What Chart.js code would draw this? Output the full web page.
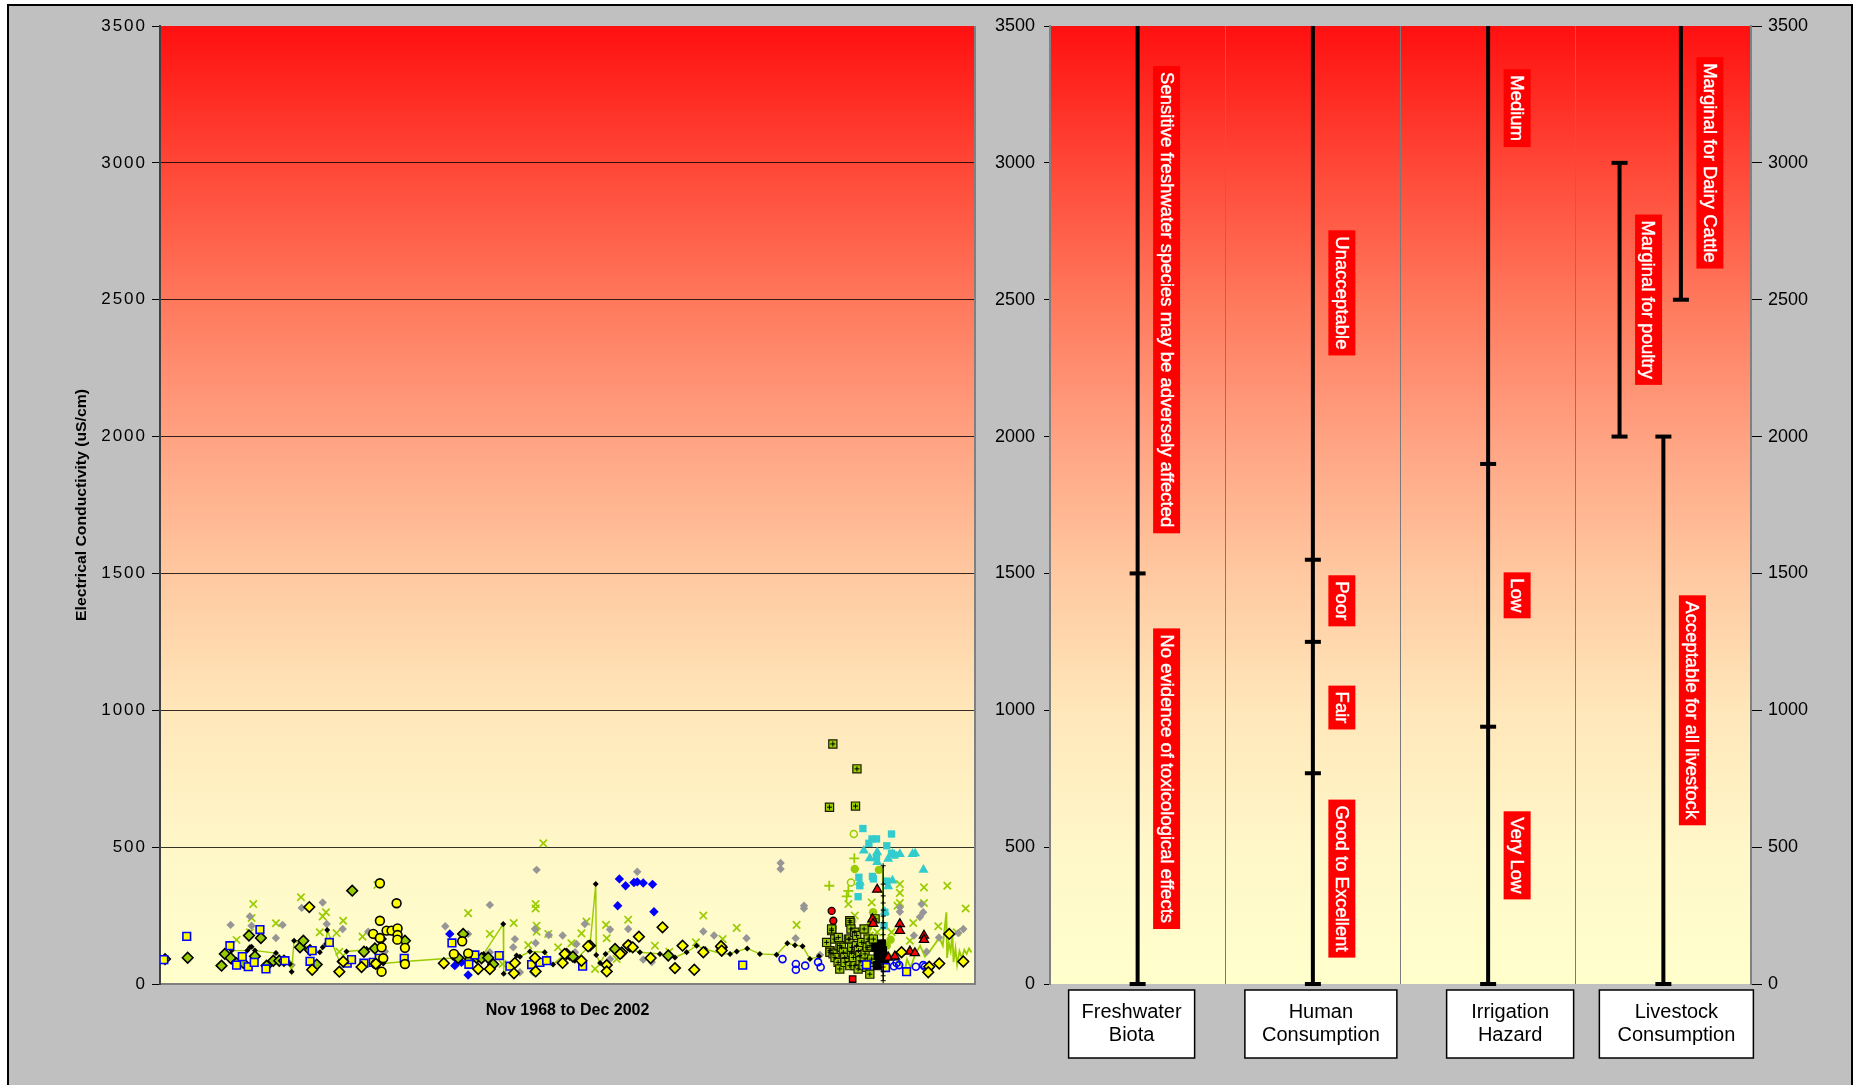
<!DOCTYPE html>
<html>
<head>
<meta charset="utf-8">
<title>Electrical Conductivity, Nov 1968 to Dec 2002</title>
<script src="https://cdn.jsdelivr.net/npm/chart.js@4.4.1/dist/chart.umd.min.js"></script>
<style>
  html, body { margin: 0; padding: 0; background: #fff; width: 1857px; height: 1085px; overflow: hidden; }
  #frame { position: absolute; left: 7px; top: 4px; width: 1846px; height: 1100px;
           background: #c0c0c0; border: 2px solid #000; box-sizing: border-box; }
  canvas { position: absolute; left: 0; top: 0; }
</style>
</head>
<body>
<div id="frame"></div>
<canvas id="ec" width="1857" height="1085"></canvas>
<canvas id="guide" width="1857" height="1085"></canvas>
<script>
// ---------------------------------------------------------------------------
// Sampling record: [decimal year, EC in uS/cm]
// ---------------------------------------------------------------------------
const yearStart = 1968.83;   // Nov 1968
const yearEnd = 2003.0;      // end of Dec 2002
const ecTicks = [0, 500, 1000, 1500, 2000, 2500, 3000, 3500];

const yellowDiamonds = [
  [1975.09,281],[1975.21,52],[1976.35,45],[1976.51,82],[1977.28,62],[1977.88,74],[1980.73,76],
  [1982.17,55],[1982.66,55],[1983.67,39],[1983.71,77],[1984.55,95],[1984.58,46],[1985.71,77],
  [1985.80,110],[1986.50,85],[1986.78,138],[1987.56,69],[1987.56,46],[1988.12,110],[1988.46,142],
  [1988.65,134],[1988.91,173],[1989.40,95],[1989.90,207],[1990.42,58],[1990.74,140],[1991.23,52],
  [1991.61,116],[1992.35,138],[1992.38,122],[1999.92,116],[2001.08,63],[2001.04,43],[2001.92,183],
  [2002.51,82],[2001.50,75]
];
const greenDiamonds = [
  [1969.04,91],[1969.99,96],[1971.41,67],[1971.55,110],[1971.79,95],[1972.04,76],[1972.32,77],
  [1972.56,177],[1972.81,101],[1973.06,168],[1973.30,67],[1973.58,85],[1973.83,85],[1974.03,85],
  [1974.70,134],[1974.84,158],[1975.12,124],[1975.40,71],[1976.89,341],[1977.38,118],[1977.84,130],
  [1978.08,164],[1979.10,158],[1981.33,95],[1981.54,183],[1981.82,91],[1982.10,96],[1982.31,94],
  [1982.59,96],[1982.80,72],[1985.88,110],[1986.14,100],[1986.86,140],[1987.91,128],[1988.19,115],
  [1988.53,138],[1990.14,104],[1992.38,134]
];
const yellowSquares = [
  [1968.99,89],[1969.95,174],[1971.76,140],[1972.04,69],[1972.28,100],[1972.53,63],[1972.78,79],
  [1973.02,199],[1973.27,55],[1974.07,85],[1975.12,83],[1975.21,122],[1975.93,152],[1976.68,76],
  [1976.86,89],[1977.38,76],[1977.77,79],[1978.02,94],[1979.07,94],[1981.07,150],[1981.78,72],
  [1982.03,106],[1983.05,104],[1983.50,65],[1984.41,71],[1984.76,79],[1985.04,85],[1986.55,65],
  [1993.26,69],[1998.45,70],[1999.25,60],[2000.13,45]
];
const yellowCircles = [
  [1978.05,368],[1978.75,295],[1978.05,231],[1978.33,195],[1978.54,195],[1978.79,203],[1978.79,179],
  [1978.78,162],[1979.10,132],[1977.77,183],[1978.12,134],[1978.19,94],[1978.12,45],[1979.10,73],
  [1977.88,73],[1978.05,168],[1981.15,110],[1981.50,156],[1981.75,112]
];
const greyDiamonds = [
  [1971.79,216],[1972.60,247],[1972.67,213],[1973.69,168],[1973.97,216],[1974.77,278],[1975.65,298],
  [1975.82,219],[1976.49,201],[1977.56,191],[1978.26,119],[1974.35,69],[1980.79,211],[1981.75,183],
  [1982.66,289],[1983.71,164],[1982.66,116],[1983.64,134],[1984.62,417],[1984.55,201],[1984.58,150],
  [1985.13,179],[1985.71,177],[1986.29,146],[1986.64,219],[1983.92,43],[1984.48,43],[1986.23,116],
  [1987.70,199],[1988.46,201],[1988.84,410],[1989.09,89],[1989.45,80],[1991.61,192],[1992.06,177],
  [1993.42,167],[1994.85,442],[1994.85,420],[1995.83,286],[1995.83,276],[1995.48,167],[1996.50,106],
  [1999.85,280],[1999.85,264],[2000.76,292],[2000.83,262],[2000.69,245],[2000.44,177],[2000.97,118],
  [2001.49,170],[2002.51,201],[2002.30,186],[1987.70,91]
];
const greenCrosses = [
  [1972.04,161],[1972.74,292],[1972.67,241],[1972.60,189],[1973.69,222],[1974.74,317],[1975.65,247],
  [1975.79,262],[1975.53,189],[1976.23,186],[1976.51,231],[1976.35,118],[1977.32,173],[1977.94,362],
  [1981.75,259],[1982.66,183],[1983.66,223],[1983.19,73],[1984.27,142],[1984.58,276],[1984.58,292],
  [1984.62,213],[1984.62,191],[1984.90,514],[1985.11,183],[1985.52,134],[1986.08,149],[1986.50,185],
  [1986.71,228],[1987.07,55],[1987.53,216],[1987.56,167],[1987.98,91],[1988.46,235],[1989.58,140],
  [1990.18,118],[1991.30,152],[1991.61,250],[1992.42,164],[1993.01,205],[1995.52,216],[1997.69,292],
  [1997.96,250],[1998.59,177],[1998.67,298],[1998.90,189],[1999.50,189],[1999.85,365],[1999.85,333],
  [1999.85,296],[1999.75,286],[2000.27,158],[2000.41,223],[2000.86,353],[2000.86,296],[2001.46,211],
  [2001.84,359],[2002.23,189],[2002.61,276]
];
const blackDiamondRun = [
  [1971.83,122],[1972.49,122],[1972.60,134],[1972.67,136],[1972.81,122],[1973.69,113],[1974.28,73],
  [1974.35,45],[1974.45,158],[1975.53,116],[1975.65,134],[1975.79,146],[1975.84,197],[1976.35,82],
  [1976.65,119],[1977.35,124],[1977.49,128],[1977.77,125],[1978.19,75],[1979.10,82],[1981.12,95],
  [1982.40,110],[1983.22,219],[1983.24,37],[1983.78,104],[1983.92,100],[1984.34,119],[1984.96,116],
  [1985.31,71],[1985.74,105],[1986.01,95],[1986.22,85],[1986.78,134],[1986.86,142],[1987.10,365],
  [1987.12,106],[1987.28,77],[1987.51,110],[1987.91,134],[1988.05,120],[1988.19,104],[1988.53,128],
  [1988.95,116],[1989.79,110],[1990.42,97],[1990.91,116],[1991.33,140],[1991.68,128],[1992.38,110],
  [1992.73,110],[1993.01,119],[1993.45,130],[1993.98,110],[1994.68,107],[1995.13,149],[1995.45,142],
  [1995.77,138],[1996.08,91],[1996.46,101]
];
const blueDiamonds = [
  [1980.98,183],[1981.19,67],[1981.33,84],[1981.47,79],[1981.75,33],[1988.02,286],[1988.09,384],
  [1988.35,359],[1988.70,371],[1988.84,373],[1989.09,369],[1989.48,364],[1989.54,264]
];
const blueRings = [
  [1994.93,91],[1995.49,73],[1995.49,52],[1995.88,67],[1996.42,80],[1996.53,61],[1999.60,65],
  [1999.71,77],[1999.82,69],[2000.52,63],[2000.83,69],[2000.90,63]
];
const cyanSquares = [
  [1998.30,568],[1999.50,548],[1998.68,530],[1998.87,530],[1998.55,514],[1999.30,505],[1999.50,477],
  [1999.64,471],[1998.87,462],[1998.13,390],[1998.17,359],[1998.70,393],[1998.74,384],[1999.30,376],
  [1998.10,319],[1999.19,213],[1999.22,262]
];
const cyanTriangles = [
  [1998.34,487],[1998.59,459],[1998.90,481],[1998.90,445],[1999.36,457],[1999.54,475],[1999.85,475],
  [2000.38,475],[2000.49,477],[2000.84,417],[1998.17,371],[1999.36,357],[1999.54,378],[1999.22,264]
];
const redTriangles = [
  [1998.90,345],[1998.70,237],[1998.73,220],[1999.85,219],[1999.85,195],[2000.86,177],[2000.86,162],
  [2000.27,119],[2000.48,113],[1999.36,97],[1999.64,101]
];
const redDots = [[1996.99,267],[1997.06,231]];
const redSquares = [[1997.87,18]];
const greenSquares = [
  [1996.90,646],[1997.04,877],[1997.99,650],[1998.05,786],
  [1996.78,152],[1996.92,122],[1996.92,116],[1996.99,195],[1996.99,201],[1997.05,110],[1997.12,164],
  [1997.13,97],[1997.26,79],[1997.27,170],[1997.33,55],[1997.34,140],[1997.40,134],[1997.48,116],
  [1997.54,97],[1997.55,79],[1997.69,164],[1997.75,231],[1997.75,164],[1997.75,67],[1997.76,225],
  [1997.80,201],[1997.82,116],[1997.83,134],[1997.90,97],[1997.96,189],[1997.97,67],[1998.03,140],
  [1998.04,177],[1998.10,55],[1998.11,122],[1998.17,104],[1998.18,85],[1998.25,152],[1998.31,67],
  [1998.35,201],[1998.39,110],[1998.46,61],[1998.48,134],[1998.52,164],[1998.59,79],[1998.59,36],
  [1998.60,140],[1998.67,91],[1998.74,164],[1998.81,238]
];
const greenPlus = [[1996.89,359],[1997.94,459],[1997.69,340],[1997.62,320]];
const greenDots = [
  [1997.96,420],[1998.97,417],[1998.73,262],[1998.66,225],[1998.52,207],[1998.45,185],[1999.46,162],
  [1999.30,140]
];
const greenRings = [[1997.92,548],[1997.80,371],[1997.03,206],[1997.85,230]];
const blackSquares = [
  [1998.84,134],[1998.94,104],[1999.01,73],[1999.12,122],[1999.22,91],[1998.90,67],[1999.08,146],
  [1998.97,115],[1999.18,80],[1999.05,95]
];
const eventProfile = [
  [1999.15,432],[1999.15,365],[1999.15,322],[1999.15,296],[1999.15,270],[1999.15,248],[1999.15,224],
  [1999.15,205],[1999.15,180],[1999.15,160],[1999.15,136],[1999.15,118],[1999.15,98],[1999.15,80],
  [1999.15,62],[1999.15,45],[1999.15,30],[1999.15,12]
];
const greenTrace = [
  [1999.13,430],[1999.16,95],[1999.30,120],[1999.60,95],[1999.90,70],[2000.05,45],[2000.15,90],
  [2000.30,60],[2000.50,110],[2000.70,140],[2000.90,100],[2001.10,120],[2001.35,150],[2001.50,170],
  [2001.65,140],[2001.80,262],[2001.83,95],[2001.90,150],[2001.98,120],[2002.05,185],[2002.10,80],
  [2002.18,130],[2002.25,70],[2002.35,120],[2002.45,95],[2002.55,125],[2002.65,110],[2002.75,130],
  [2002.85,115]
];

// ---------------------------------------------------------------------------
// Water quality guideline bands (EC, uS/cm)
// ---------------------------------------------------------------------------
const guideCategories = [['Freshwater', 'Biota'], ['Human', 'Consumption'], ['Irrigation', 'Hazard'], ['Livestock', 'Consumption']];
const bandLabels = [
  'No evidence of toxicological effects', 'Sensitive freshwater species may be adversely affected',
  'Good to Excellent', 'Fair', 'Poor', 'Unacceptable',
  'Very Low', 'Low', 'Medium',
  'Acceptable for all livestock', 'Marginal for poultry', 'Marginal for Dairy Cattle'
];
const bandColumn = [0, 0, 1, 1, 1, 1, 2, 2, 2, 3, 3, 3];
const bandFrom = [0, 1500, 0, 770, 1250, 1550, 0, 940, 1900, 0, 2000, 2500];
const bandTo = [1500, 3500, 770, 1250, 1550, 3500, 940, 1900, 4500, 2000, 3000, 3500];

// ---------------------------------------------------------------------------
// Shared drawing helpers
// ---------------------------------------------------------------------------
const FONT = '"Liberation Sans", Arial, Helvetica, sans-serif';
Chart.defaults.font.family = FONT;
Chart.defaults.color = '#000';

// lateral offset (in column units) for livestock bars sharing a column
const laneShift = { 'Marginal for poultry': -0.25, 'Marginal for Dairy Cattle': 0.1 };

function fillPlotGradient(chart) {
  const { ctx, chartArea: a } = chart;
  const g = ctx.createLinearGradient(0, a.top, 0, a.bottom);
  g.addColorStop(0.000, 'rgb(255,16,16)');
  g.addColorStop(0.143, 'rgb(255,70,54)');
  g.addColorStop(0.286, 'rgb(255,120,92)');
  g.addColorStop(0.429, 'rgb(255,162,130)');
  g.addColorStop(0.571, 'rgb(255,200,160)');
  g.addColorStop(0.714, 'rgb(255,231,186)');
  g.addColorStop(0.857, 'rgb(255,247,200)');
  g.addColorStop(1.000, 'rgb(255,255,204)');
  ctx.save();
  ctx.fillStyle = g;
  ctx.fillRect(a.left, a.top, a.right - a.left, a.bottom - a.top);
  ctx.restore();
}

// text squeezed or stretched to a given length along its baseline
function fittedText(ctx, text, x, y, angle, font, length) {
  ctx.save();
  ctx.font = font;
  ctx.translate(x, y);
  ctx.rotate(angle);
  const w = ctx.measureText(text).width;
  if (length) ctx.scale(length / w, 1);
  ctx.textAlign = 'center';
  ctx.textBaseline = 'middle';
  ctx.fillStyle = '#000';
  ctx.fillText(text, 0, 0);
  ctx.restore();
}

const pts = arr => arr.map(([x, y]) => ({ x, y }));
function marks(arr, style) {
  return Object.assign({ data: pts(arr), showLine: false, pointHoverRadius: 0 }, style);
}
const plainNumber = v => String(v);

// ---------------------------------------------------------------------------
// Left panel: EC record
// ---------------------------------------------------------------------------
const ecDecor = {
  id: 'ecDecor',
  beforeDraw(chart) {
    fillPlotGradient(chart);
    chart.ctx.letterSpacing = '2px';
  },
  beforeDatasetsDraw(chart) { chart.ctx.letterSpacing = '0px'; },
  afterDraw(chart) {
    const { ctx, chartArea: a } = chart;
    ctx.save();
    ctx.strokeStyle = '#808080';
    ctx.lineWidth = 2;
    ctx.beginPath();
    ctx.moveTo(a.right, a.top);
    ctx.lineTo(a.right, a.bottom);
    ctx.stroke();
    ctx.restore();
    fittedText(ctx, 'Electrical Conductivity (uS/cm)', 82, (a.top + a.bottom) / 2, -Math.PI / 2, 'bold 15px ' + FONT, 232);
    fittedText(ctx, 'Nov 1968 to Dec 2002', (a.left + a.right) / 2, 1011, 0, 'bold 16px ' + FONT, 0);
  }
};

const Y = '#ffff00', G = '#99cc00', GR = '#969696', B = '#0000ff', C = '#33cccc', R = '#ff0000', K = '#000';

new Chart(document.getElementById('ec'), {
  type: 'scatter',
  data: {
    datasets: [
      { data: pts(eventProfile), showLine: true, borderColor: K, borderWidth: 1.2,
        pointStyle: 'cross', pointRadius: 2.5, pointBorderColor: K, pointBorderWidth: 1, pointHoverRadius: 0 },
      marks(yellowDiamonds, { pointStyle: 'rectRot', pointRadius: 5.3, backgroundColor: Y, borderColor: K, borderWidth: 1.6 }),
      marks(yellowCircles, { pointStyle: 'circle', pointRadius: 4.4, backgroundColor: Y, borderColor: K, borderWidth: 1.6 }),
      marks(yellowSquares, { pointStyle: 'rect', pointRadius: 5.4, backgroundColor: Y, borderColor: B, borderWidth: 1.6 }),
      marks(greenDiamonds, { pointStyle: 'rectRot', pointRadius: 5.3, backgroundColor: G, borderColor: K, borderWidth: 1.6 }),
      marks(redTriangles, { pointStyle: 'triangle', pointRadius: 5.3, backgroundColor: R, borderColor: K, borderWidth: 1.3 }),
      marks(redDots, { pointStyle: 'circle', pointRadius: 3.5, backgroundColor: R, borderColor: K, borderWidth: 1.3 }),
      marks(redSquares, { pointStyle: 'rect', pointRadius: 4.5, backgroundColor: R, borderColor: K, borderWidth: 1.3 }),
      marks(cyanSquares, { pointStyle: 'rect', pointRadius: 5.2, backgroundColor: C, borderColor: C, borderWidth: 0 }),
      marks(cyanTriangles, { pointStyle: 'triangle', pointRadius: 5.8, backgroundColor: C, borderColor: C, borderWidth: 0 }),
      marks(blackSquares, { pointStyle: 'rect', pointRadius: 5.8, backgroundColor: K, borderColor: K, borderWidth: 1 }),
      marks(greenSquares, { pointStyle: 'cross', pointRadius: 2.5, borderColor: K, borderWidth: 1 }),
      marks(greenSquares, { pointStyle: 'rect', pointRadius: 5.8, backgroundColor: G, borderColor: '#1a1a00', borderWidth: 1.2 }),
      marks(greenDots, { pointStyle: 'circle', pointRadius: 4.2, backgroundColor: G, borderColor: G, borderWidth: 0 }),
      marks(greenRings, { pointStyle: 'circle', pointRadius: 3.5, backgroundColor: 'rgba(0,0,0,0)', borderColor: G, borderWidth: 1.5 }),
      marks(greenPlus, { pointStyle: 'cross', pointRadius: 5, borderColor: G, borderWidth: 1.8 }),
      marks(blueDiamonds, { pointStyle: 'rectRot', pointRadius: 4.7, backgroundColor: B, borderColor: B, borderWidth: 0 }),
      marks(blueRings, { pointStyle: 'circle', pointRadius: 3.5, backgroundColor: 'rgba(0,0,0,0)', borderColor: B, borderWidth: 1.6 }),
      { data: pts(blackDiamondRun), showLine: true, borderColor: G, borderWidth: 1.4,
        pointStyle: 'rectRot', pointRadius: 3, pointBackgroundColor: K, pointBorderColor: K, pointBorderWidth: 0, pointHoverRadius: 0 },
      marks(greyDiamonds, { pointStyle: 'rectRot', pointRadius: 4.2, backgroundColor: GR, borderColor: GR, borderWidth: 0 }),
      marks(greenCrosses, { pointStyle: 'crossRot', pointRadius: 5.2, borderColor: G, borderWidth: 1.7 }),
      { data: pts(greenTrace), showLine: true, borderColor: G, borderWidth: 1.8, pointRadius: 0, pointHoverRadius: 0 }
    ]
  },
  options: {
    responsive: false,
    animation: false,
    events: [],
    layout: { padding: { left: 100, top: 26, right: 1857 - 975, bottom: 1085 - 984 } },
    plugins: { legend: { display: false }, tooltip: { enabled: false } },
    scales: {
      x: {
        type: 'linear', min: yearStart, max: yearEnd,
        ticks: { display: false },
        grid: { display: false, drawTicks: false },
        border: { color: '#808080', width: 2 },
        afterFit(s) { s.height = 0; }
      },
      y: {
        min: 0, max: 3500,
        afterBuildTicks(s) { s.ticks = ecTicks.map(v => ({ value: v })); },
        ticks: { font: { size: 17 }, color: '#000', padding: 5, callback: plainNumber },
        grid: {
          color: c => (c.tick && (c.tick.value === 0 || c.tick.value === 3500)) ? 'rgba(0,0,0,0)' : 'rgba(0,0,0,0.8)',
          lineWidth: 1, tickLength: 8, tickColor: '#000', tickWidth: 1
        },
        border: { color: '#404040', width: 2 },
        afterFit(s) { s.width = 60; }
      }
    }
  },
  plugins: [ecDecor]
});

// ---------------------------------------------------------------------------
// Right panel: guideline bands
// ---------------------------------------------------------------------------
const bandX = bandLabels.map((l, i) => bandColumn[i] + 0.5 + (laneShift[l] || 0));

const bandSets = bandLabels.map((l, i) => ({
  data: [{ x: bandX[i], y: bandFrom[i] }, { x: bandX[i], y: bandTo[i] }],
  showLine: true, borderColor: '#000', borderWidth: 4, pointRadius: 0, pointHoverRadius: 0
}));

// end caps: every band start, plus band ends that don't continue and sit inside the axis
const capPoints = [];
bandLabels.forEach((l, i) => {
  capPoints.push({ x: bandX[i], y: bandFrom[i] });
  const continues = bandLabels.some((m, j) => j !== i && bandX[j] === bandX[i] && bandFrom[j] === bandTo[i]);
  if (!continues && bandTo[i] < 3500) capPoints.push({ x: bandX[i], y: bandTo[i] });
});

const guideDecor = {
  id: 'guideDecor',
  beforeDraw(chart) { fillPlotGradient(chart); },
  afterDatasetsDraw(chart) {
    const { ctx, scales: { x, y } } = chart;
    ctx.save();
    ctx.font = '18.5px ' + FONT;
    bandLabels.forEach((txt, i) => {
      const cx = x.getPixelForValue(bandX[i]) + 29;
      const cy = y.getPixelForValue((bandFrom[i] + bandTo[i]) / 2);
      const len = ctx.measureText(txt).width + 12;
      ctx.fillStyle = '#ff0000';
      ctx.fillRect(cx - 13.5, cy - len / 2, 27, len);
      ctx.save();
      ctx.translate(cx, cy);
      ctx.rotate(Math.PI / 2);
      ctx.fillStyle = '#fff';
      ctx.strokeStyle = '#fff';
      ctx.lineWidth = 0.4;
      ctx.textAlign = 'center';
      ctx.textBaseline = 'middle';
      ctx.fillText(txt, 0, 1);
      ctx.strokeText(txt, 0, 1);
      ctx.restore();
    });
    ctx.restore();
  },
  afterDraw(chart) {
    const { ctx, scales: { x } } = chart;
    const boxW = [126, 152, 127, 154];
    const boxShift = [-6, 8, 22, 13];
    ctx.save();
    guideCategories.forEach((lines, i) => {
      const cx = x.getPixelForValue(i + 0.5) + boxShift[i];
      ctx.fillStyle = '#fff';
      ctx.fillRect(cx - boxW[i] / 2, 990, boxW[i], 68);
      ctx.strokeStyle = '#000';
      ctx.lineWidth = 1.5;
      ctx.strokeRect(cx - boxW[i] / 2, 990, boxW[i], 68);
      ctx.fillStyle = '#000';
      ctx.font = '20px ' + FONT;
      ctx.textAlign = 'center';
      ctx.textBaseline = 'middle';
      lines.forEach((t, k) => ctx.fillText(t, cx, 1012 + k * 23));
    });
    ctx.restore();
  }
};

new Chart(document.getElementById('guide'), {
  type: 'scatter',
  data: {
    datasets: [
      { data: capPoints, showLine: false, pointStyle: 'line', pointRadius: 8, borderColor: '#000',
        borderWidth: 4, pointHoverRadius: 0, clip: false },
      ...bandSets
    ]
  },
  options: {
    responsive: false,
    animation: false,
    events: [],
    layout: { padding: { left: 1050 - 60, top: 26, right: 1857 - 1751 - 70, bottom: 1085 - 984 } },
    plugins: { legend: { display: false }, tooltip: { enabled: false } },
    scales: {
      x: {
        type: 'linear', min: 0, max: guideCategories.length,
        ticks: { display: false, stepSize: 1 },
        grid: { color: '#7a7a7a', lineWidth: 1, drawTicks: false },
        border: { display: false },
        afterFit(s) { s.height = 0; }
      },
      y: {
        position: 'left', min: 0, max: 3500,
        afterBuildTicks(s) { s.ticks = ecTicks.map(v => ({ value: v })); },
        ticks: { font: { size: 18 }, color: '#000', padding: 9, callback: plainNumber },
        grid: { drawOnChartArea: false, tickLength: 6, tickColor: '#000', tickWidth: 1 },
        border: { color: '#808080', width: 2 },
        afterFit(s) { s.width = 60; }
      },
      y2: {
        position: 'right', min: 0, max: 3500,
        afterBuildTicks(s) { s.ticks = ecTicks.map(v => ({ value: v })); },
        ticks: { font: { size: 18 }, color: '#000', padding: 6, callback: plainNumber },
        grid: { drawOnChartArea: false, tickLength: 11, tickColor: '#000', tickWidth: 1 },
        border: { color: '#808080', width: 2 },
        afterFit(s) { s.width = 70; }
      }
    }
  },
  plugins: [guideDecor]
});
</script>
</body>
</html>
